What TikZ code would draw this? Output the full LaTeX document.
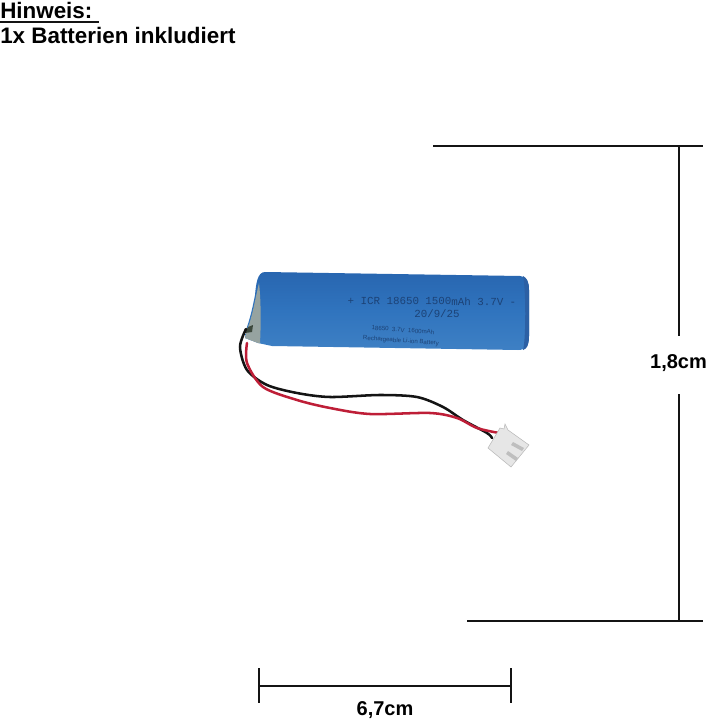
\documentclass[tikz,border=0pt]{standalone}
\usepackage{fontspec}
\setmainfont{Liberation Sans}
\newfontfamily\printfont{Liberation Mono}
\begin{document}
\begin{tikzpicture}[x=0.75pt,y=0.75pt,yscale=-1,xscale=1,
  dimline/.style={line width=1.3pt,color={rgb, 255:red, 20; green, 20; blue, 20 }},
  headtext/.style={font=\bfseries\fontsize{16.8}{19}\selectfont,inner sep=0pt},
  dimtext/.style={font=\bfseries\fontsize{15}{17}\selectfont,inner sep=0pt},
  cellprint/.style={color={rgb, 255:red, 28; green, 66; blue, 118 },inner sep=0pt},
  wire/.style={line width=1.9pt,line cap=round}]
\useasboundingbox (0,0) rectangle (706,720);

%Shape: Battery body
\draw [draw=none,top color={rgb, 255:red, 40; green, 102; blue, 176 },bottom color={rgb, 255:red, 62; green, 128; blue, 196 },middle color={rgb, 255:red, 48; green, 116; blue, 190 }]  (265,272) -- (520,276) .. controls (526,276) and (529,282) .. (529,290) -- (529,336) .. controls (529,345) and (526,350) .. (518,350) -- (272,346) -- (258,343) -- (245,338) -- (247,327) .. controls (251,315) and (253,305) .. (255,295) .. controls (256,285) and (257,272) .. (265,272) -- cycle ;
%Shape: Battery right rim
\draw [draw=none,fill={rgb, 255:red, 44; green, 96; blue, 164 }]  (523,276) .. controls (527,278) and (529,282) .. (529,290) -- (529,336) .. controls (529,345) and (527,349) .. (523,350) .. controls (526,340) and (526,288) .. (523,276) -- cycle ;
%Shape: Battery end cap
\draw [draw=none,fill={rgb, 255:red, 150; green, 163; blue, 160 }]  (259,283) .. controls (261,300) and (261,325) .. (260,343) -- (258,343) -- (245,338) -- (248,327) .. controls (252,318) and (255,300) .. (259,283) -- cycle ;
%Shape: Dark seam
\draw [draw=none,fill={rgb, 255:red, 60; green, 72; blue, 60 }]  (248,327) -- (253,325) -- (252,332) -- (245,333) -- cycle ;

%Curve Lines: black wire
\draw [wire,color={rgb, 255:red, 20; green, 20; blue, 20 }] plot[smooth] coordinates {(246,329) (240,347) (247,370) (267,385) (297,393) (330,397) (380,395) (417,397) (443,407) (463,420) (487,433) (492,438)};
%Curve Lines: red wire
\draw [wire,color={rgb, 255:red, 190; green, 30; blue, 55 }] plot[smooth] coordinates {(247,343) (247,363) (263,387) (297,400) (330,408) (370,414) (430,413) (457,418) (477,428) (499,433)};

%Shape: Plug
\draw [color={rgb, 255:red, 185; green, 185; blue, 185 },fill={rgb, 255:red, 230; green, 230; blue, 230 }]  (505,424) -- (508,430) -- (529,445) -- (511,467) -- (488,448) -- (500,428) -- (504,429) -- cycle ;
%Shape: Plug slots
\draw [draw=none,fill={rgb, 255:red, 190; green, 190; blue, 190 }]  (513,442) -- (524,448) -- (522,451) -- (511,445) -- cycle ;
\draw [draw=none,fill={rgb, 255:red, 190; green, 190; blue, 190 }]  (508,451) -- (518,458) -- (516,461) -- (506,454) -- cycle ;

%Straight Lines: extension and measure lines
\coordinate (heightfromL) at (433,146);
\coordinate (heightfromR) at (703,146);
\coordinate (heighttoL) at (467,621);
\coordinate (heighttoR) at (703,621);
\coordinate (heighttop) at (679,146);
\coordinate (heightupper) at (679,336);
\coordinate (heightlower) at (679,394);
\coordinate (heightbot) at (679,621);
\coordinate (widthL) at (259,686);
\coordinate (widthR) at (511,686);
\coordinate (widthLa) at (259,668);
\coordinate (widthLb) at (259,703);
\coordinate (widthRa) at (511,668);
\coordinate (widthRb) at (511,703);
\coordinate (headL) at (0,22);
\coordinate (headR) at (99,22);
\draw [dimline] (heightfromL) -- (heightfromR) ;
\draw [dimline] (heighttoL) -- (heighttoR) ;
\draw [dimline] (heighttop) -- (heightupper) ;
\draw [dimline] (heightlower) -- (heightbot) ;
\draw [dimline] (widthL) -- (widthR) ;
\draw [dimline] (widthLa) -- (widthLb) ;
\draw [dimline] (widthRa) -- (widthRb) ;
\draw [dimline] (headL) -- (headR) ;

% Text Node
\draw (0,10) node [headtext,anchor=west] (hint) {Hinweis:};
% Text Node
\draw (0,35) node [headtext,anchor=west] (scope) {1x Batterien inkludiert};
% Text Node
\draw (678.5,363) node [dimtext] (height) {1,8cm};
% Text Node
\draw (385,710) node [dimtext] (width) {6,7cm};
% Text Node
\draw (432,301) node [cellprint,rotate=-0.5,font=\printfont\fontsize{8.1}{9}\selectfont] (printa) {+ ICR 18650 1500mAh 3.7V -};
% Text Node
\draw (437,314) node [cellprint,font=\printfont\fontsize{8.1}{9}\selectfont] (printb) {20/9/25};
% Text Node
\draw (403,330) node [cellprint,rotate=-4,font=\fontsize{4.6}{5}\selectfont] (printc) {18650 \ 3.7V \ 1600mAh};
% Text Node
\draw (401,341) node [cellprint,rotate=-4,font=\fontsize{4.6}{5}\selectfont] (printd) {Rechargeable Li-ion Battery};

\end{tikzpicture}
\end{document}
